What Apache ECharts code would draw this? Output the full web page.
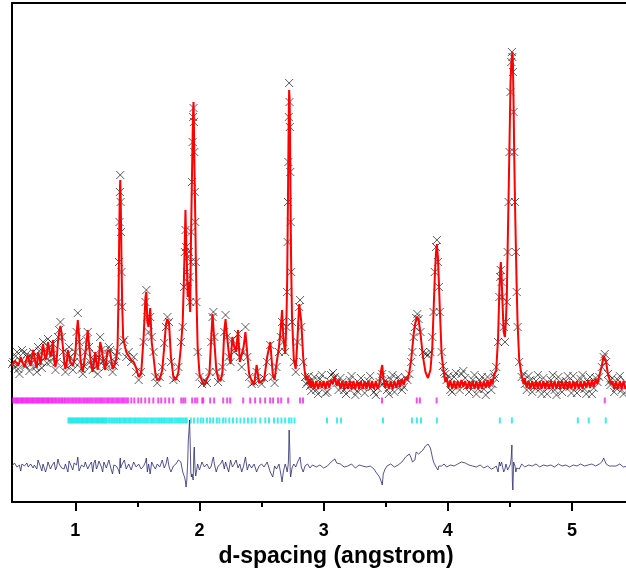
<!DOCTYPE html>
<html><head><meta charset="utf-8">
<script src="https://cdn.jsdelivr.net/npm/echarts@6/dist/echarts.min.js"></script>
<style>html,body{margin:0;padding:0;background:#fff}#c{width:626px;height:573px}</style>
</head><body><div id="c"></div>
<script>
// observed intensity [d-spacing (angstrom), intensity (arb.)]
const observed = [
[0.49,138],[0.50,140],[0.51,134],[0.52,146],[0.53,150],[0.54,133],[0.55,128],[0.56,141],[0.57,152],[0.58,149],
[0.59,137],[0.60,136],[0.61,148],[0.62,144],[0.63,131],[0.64,138],[0.65,145],[0.66,150],[0.67,142],[0.68,135],
[0.69,130],[0.70,155],[0.71,151],[0.72,140],[0.73,134],[0.74,160],[0.75,152],[0.76,145],[0.77,139],[0.78,163],
[0.79,155],[0.80,140],[0.81,147],[0.82,158],[0.83,145],[0.84,132],[0.85,140],[0.86,165],[0.87,172],[0.88,180],
[0.89,165],[0.90,150],[0.91,138],[0.92,130],[0.93,136],[0.94,148],[0.95,155],[0.96,145],[0.97,138],[0.98,132],
[0.99,140],[1.00,150],[1.01,170],[1.02,189],[1.03,160],[1.04,140],[1.05,133],[1.06,128],[1.07,136],[1.08,150],
[1.09,162],[1.10,170],[1.11,155],[1.12,140],[1.13,137],[1.14,132],[1.15,142],[1.16,148],[1.17,136],[1.18,128],
[1.19,145],[1.20,165],[1.21,152],[1.22,140],[1.23,142],[1.24,135],[1.25,138],[1.26,148],[1.27,155],[1.28,152],
[1.29,138],[1.30,130],[1.31,136],[1.32,140],[1.33,146],[1.34,150],
[1.348,200],[1.352,240],[1.356,280],[1.359,310],[1.362,327],[1.365,300],[1.368,270],[1.372,230],[1.377,195],[1.385,160],
[1.395,162],[1.41,145],[1.43,150],[1.45,140],[1.47,145],[1.49,130],[1.51,122],[1.53,130],[1.55,160],[1.565,200],
[1.572,212],[1.58,185],[1.59,170],[1.603,185],[1.615,165],[1.63,150],[1.645,125],[1.66,119],[1.68,125],[1.70,135],
[1.716,159],[1.73,175],[1.742,185],[1.755,180],[1.77,140],[1.79,122],[1.81,124],[1.83,135],[1.85,160],[1.865,175],
[1.875,215],[1.882,250],[1.887,272],[1.892,255],[1.898,230],[1.905,220],[1.91,245],[1.915,250],[1.92,225],[1.925,200],
[1.93,240],[1.935,270],[1.94,320],[1.945,360],[1.949,385],[1.952,394],[1.955,380],[1.958,350],[1.962,310],[1.966,280],
[1.97,240],[1.975,200],[1.985,150],[2.00,125],[2.02,118],[2.04,122],[2.06,119],[2.08,130],[2.095,160],[2.105,185],
[2.112,190],[2.12,165],[2.135,130],[2.15,120],[2.17,124],[2.185,135],[2.20,170],[2.21,187],[2.22,165],[2.235,145],
[2.25,140],[2.265,162],[2.28,150],[2.295,155],[2.31,168],[2.325,145],[2.34,135],[2.355,150],[2.37,175],[2.385,145],
[2.40,125],[2.42,118],[2.44,120],[2.46,130],[2.48,122],[2.50,118],[2.52,124],[2.545,140],[2.57,157],[2.59,125],
[2.605,119],[2.62,135],[2.64,150],[2.655,165],[2.665,180],[2.675,160],[2.69,150],[2.70,175],[2.706,210],[2.71,260],
[2.713,300],[2.716,340],[2.719,385],[2.722,419],[2.725,400],[2.728,375],[2.731,330],[2.734,280],[2.738,230],[2.745,180],
[2.76,140],[2.775,130],[2.79,160],[2.803,195],[2.81,202],[2.82,175],[2.835,140],
[2.85,125],[2.86,118],[2.87,120],[2.88,126],[2.89,116],[2.90,111],[2.91,121],[2.925,125],[2.94,112],[2.955,108],
[2.97,123],[2.985,127],[3.00,117],[3.015,109],[3.03,110],[3.045,121],[3.06,127],[3.075,129],[3.09,125],[3.105,119],
[3.12,112],[3.135,124],[3.15,120],[3.165,112],[3.18,108],[3.195,116],[3.21,122],[3.225,126],[3.24,114],[3.255,107],
[3.27,111],[3.285,119],[3.30,124],[3.315,115],[3.33,109],[3.345,118],[3.36,121],[3.375,126],[3.39,115],[3.405,110],
[3.42,107],[3.435,114],[3.45,120],[3.465,125],[3.472,128],[3.48,118],[3.495,121],[3.51,112],[3.525,108],[3.54,123],
[3.555,127],[3.57,110],[3.585,116],[3.60,125],[3.615,121],[3.63,112],[3.645,115],[3.66,124],[3.675,122],[3.69,128],
[3.705,140],[3.715,150],[3.725,165],[3.735,175],[3.745,184],[3.755,188],[3.765,183],[3.78,170],[3.80,150],[3.82,148],
[3.84,147],[3.86,150],[3.875,165],[3.885,190],[3.895,230],[3.905,255],[3.912,262],[3.92,240],[3.928,215],[3.935,190],
[3.95,150],[3.96,136],[3.97,130],[3.98,128],[3.99,122],[4.005,126],[4.02,112],[4.035,110],[4.05,125],[4.065,129],
[4.08,118],[4.095,112],[4.11,128],[4.125,131],[4.14,124],[4.155,116],[4.17,110],[4.185,118],[4.20,122],[4.215,127],
[4.23,108],[4.245,113],[4.26,121],[4.275,125],[4.29,113],[4.305,107],[4.32,125],[4.335,119],[4.35,112],[4.36,118],
[4.37,128],[4.38,124],[4.39,135],
[4.405,160],[4.415,205],[4.422,225],[4.427,232],[4.433,220],[4.44,205],[4.45,175],[4.46,160],[4.468,180],[4.475,200],
[4.482,250],[4.49,300],[4.497,350],[4.505,410],[4.511,440],[4.516,450],[4.52,445],[4.524,430],[4.53,390],[4.535,350],
[4.541,300],[4.548,250],[4.555,210],[4.562,175],[4.575,140],
[4.595,125],[4.61,128],[4.62,118],[4.635,112],[4.65,126],[4.665,122],[4.68,110],[4.695,115],[4.71,121],[4.725,127],
[4.74,113],[4.755,108],[4.77,124],[4.785,118],[4.80,108],[4.815,115],[4.83,122],[4.845,127],[4.86,112],[4.875,107],
[4.89,125],[4.905,120],[4.92,110],[4.935,116],[4.95,121],[4.965,126],[4.98,115],[4.995,109],[5.01,126],[5.025,119],
[5.04,109],[5.055,114],[5.07,123],[5.085,127],[5.10,113],[5.115,108],[5.13,120],[5.145,125],[5.16,108],[5.175,114],
[5.19,124],[5.205,120],[5.22,125],[5.24,135],[5.255,145],[5.264,148],[5.275,140],[5.29,128],[5.30,120],[5.31,117],
[5.325,124],[5.34,110],[5.355,114],[5.37,122],[5.385,126],[5.40,112],[5.415,108],[5.43,120],[5.45,115]
];
// calculated profile
const calculated = [
[0.49,136],[0.50,138],[0.51,141],[0.52,142],[0.53,139],[0.54,136],[0.55,140],[0.56,145],[0.57,143],[0.58,138],
[0.59,135],[0.60,140],[0.61,144],[0.62,147],[0.63,140],[0.64,136],[0.65,144],[0.66,152],[0.67,146],[0.68,138],
[0.69,134],[0.70,150],[0.71,146],[0.72,137],[0.73,139],[0.74,158],[0.75,150],[0.76,142],[0.77,147],[0.78,160],
[0.79,153],[0.80,145],[0.81,150],[0.82,162],[0.83,141],[0.84,135],[0.85,143],[0.86,160],[0.87,170],[0.88,176],
[0.89,168],[0.90,155],[0.91,142],[0.92,133],[0.93,138],[0.94,152],[0.95,150],[0.96,140],[0.97,140],[0.98,136],
[0.99,138],[1.00,148],[1.01,168],[1.02,182],[1.03,166],[1.04,145],[1.05,134],[1.06,130],[1.07,139],[1.08,148],
[1.09,160],[1.10,172],[1.11,158],[1.12,145],[1.13,135],[1.14,130],[1.15,140],[1.16,150],[1.17,140],[1.18,132],
[1.19,142],[1.20,160],[1.21,155],[1.22,146],[1.23,138],[1.24,132],[1.25,142],[1.26,152],[1.27,151],[1.28,150],
[1.29,142],[1.30,133],[1.31,134],[1.32,138],[1.33,144],[1.34,155],
[1.348,205],[1.352,250],[1.356,290],[1.359,312],[1.362,322],[1.365,305],[1.368,280],[1.372,240],[1.377,200],[1.385,165],
[1.395,158],[1.41,150],[1.43,146],[1.45,142],[1.47,140],[1.49,134],[1.51,125],[1.53,128],[1.55,165],[1.565,205],
[1.572,210],[1.58,180],[1.59,175],[1.603,194],[1.615,160],[1.63,145],[1.645,128],[1.66,122],[1.68,123],[1.70,132],
[1.716,155],[1.73,178],[1.742,183],[1.755,178],[1.77,145],[1.79,125],[1.81,122],[1.83,130],[1.85,155],[1.865,180],
[1.875,225],[1.882,262],[1.887,292],[1.892,265],[1.898,240],[1.905,205],[1.91,215],[1.915,220],[1.92,200],[1.925,190],
[1.93,250],[1.935,290],[1.94,330],[1.945,368],[1.949,392],[1.952,400],[1.955,378],[1.958,345],[1.962,315],[1.966,285],
[1.97,248],[1.975,210],[1.985,155],[2.00,128],[2.02,121],[2.04,117],[2.06,123],[2.08,128],[2.095,165],[2.105,188],
[2.112,186],[2.12,160],[2.135,133],[2.15,123],[2.17,121],[2.185,130],[2.20,172],[2.21,183],[2.22,168],[2.235,150],
[2.25,138],[2.265,165],[2.28,155],[2.295,150],[2.31,172],[2.325,140],[2.34,138],[2.355,155],[2.37,170],[2.385,148],
[2.40,128],[2.42,121],[2.44,117],[2.46,137],[2.48,119],[2.50,121],[2.52,122],[2.545,145],[2.57,160],[2.59,128],
[2.605,122],[2.62,138],[2.64,155],[2.655,175],[2.665,192],[2.675,165],[2.69,148],[2.70,180],[2.706,220],[2.71,270],
[2.713,310],[2.716,350],[2.719,390],[2.722,412],[2.725,405],[2.728,385],[2.731,340],[2.734,290],[2.738,240],[2.745,185],
[2.76,142],[2.775,133],[2.79,165],[2.803,198],[2.81,200],[2.82,180],[2.835,145],
[2.85,128],[2.86,122],[2.87,126],[2.88,117],[2.89,123],[2.90,114],[2.91,121],[2.925,113],[2.94,121],[2.955,113],
[2.97,121],[2.985,114],[3.00,121],[3.015,113],[3.03,121],[3.045,114],[3.06,122],[3.075,118],[3.09,126],[3.105,116],
[3.12,122],[3.135,113],[3.15,121],[3.165,113],[3.18,121],[3.195,113],[3.21,121],[3.225,113],[3.24,121],[3.255,113],
[3.27,121],[3.285,113],[3.30,121],[3.315,113],[3.33,121],[3.345,113],[3.36,121],[3.375,113],[3.39,121],[3.405,113],
[3.42,121],[3.435,113],[3.45,119],[3.465,133],[3.472,137],[3.48,125],[3.495,114],[3.51,121],[3.525,113],[3.54,121],
[3.555,113],[3.57,121],[3.585,114],[3.60,122],[3.615,115],[3.63,123],[3.645,117],[3.66,125],[3.675,122],[3.69,130],
[3.705,142],[3.715,155],[3.725,168],[3.735,177],[3.745,182],[3.755,185],[3.765,182],[3.78,168],[3.80,145],[3.82,130],
[3.84,124],[3.86,132],[3.875,155],[3.885,190],[3.895,225],[3.905,250],[3.912,258],[3.92,245],[3.928,220],[3.935,195],
[3.95,148],[3.96,137],[3.97,128],[3.98,120],[3.99,125],[4.005,114],[4.02,122],[4.035,113],[4.05,121],[4.065,113],
[4.08,121],[4.095,114],[4.11,122],[4.125,115],[4.14,121],[4.155,113],[4.17,121],[4.185,113],[4.20,121],[4.215,113],
[4.23,121],[4.245,113],[4.26,121],[4.275,113],[4.29,121],[4.305,114],[4.32,122],[4.335,115],[4.35,123],[4.36,118],
[4.37,126],[4.38,124],[4.39,132],
[4.405,165],[4.415,210],[4.422,232],[4.427,240],[4.433,225],[4.44,200],[4.45,170],[4.46,165],[4.468,182],[4.475,205],
[4.482,255],[4.49,310],[4.497,360],[4.505,420],[4.511,438],[4.516,445],[4.52,450],[4.524,440],[4.53,395],[4.535,345],
[4.541,300],[4.548,255],[4.555,212],[4.562,178],[4.575,142],
[4.595,126],[4.61,118],[4.62,124],[4.635,114],[4.65,121],[4.665,113],[4.68,121],[4.695,113],[4.71,121],[4.725,113],
[4.74,121],[4.755,113],[4.77,121],[4.785,113],[4.80,121],[4.815,113],[4.83,121],[4.845,113],[4.86,121],[4.875,113],
[4.89,121],[4.905,113],[4.92,121],[4.935,113],[4.95,121],[4.965,113],[4.98,121],[4.995,113],[5.01,121],[5.025,113],
[5.04,121],[5.055,113],[5.07,121],[5.085,113],[5.10,121],[5.115,114],[5.13,122],[5.145,114],[5.16,122],[5.175,115],
[5.19,123],[5.205,118],[5.22,126],[5.24,136],[5.255,146],[5.264,148],[5.275,140],[5.29,127],[5.30,124],[5.31,118],
[5.325,121],[5.34,113],[5.355,121],[5.37,113],[5.385,121],[5.40,113],[5.415,121],[5.43,113],[5.45,119]
];
// difference (observed - calculated, offset)
const difference = [
[0.49,36],[0.50,36],[0.51,39],[0.52,38],[0.53,35],[0.54,33],[0.55,37],[0.56,31],[0.57,38],[0.58,40],
[0.59,36],[0.60,34],[0.61,39],[0.62,35],[0.63,33],[0.64,38],[0.65,40],[0.66,34],[0.67,37],[0.68,36],
[0.69,33],[0.70,42],[0.71,40],[0.72,35],[0.73,31],[0.74,38],[0.75,37],[0.76,30],[0.77,34],[0.78,40],
[0.79,39],[0.80,33],[0.81,36],[0.82,36],[0.83,40],[0.84,32],[0.85,35],[0.86,43],[0.87,38],[0.88,40],
[0.89,34],[0.90,34],[0.91,33],[0.92,38],[0.93,36],[0.94,30],[0.95,41],[0.96,40],[0.97,35],[0.98,32],
[0.99,39],[1.00,38],[1.01,37],[1.02,45],[1.03,31],[1.04,33],[1.05,37],[1.06,36],[1.07,35],[1.08,40],
[1.09,38],[1.10,33],[1.11,36],[1.12,38],[1.13,40],[1.14,30],[1.15,39],[1.16,42],[1.17,33],[1.18,36],
[1.19,41],[1.20,40],[1.21,35],[1.22,30],[1.23,40],[1.24,38],[1.25,34],[1.26,33],[1.27,42],[1.28,44],
[1.29,32],[1.30,28],[1.31,37],[1.32,38],[1.33,36],[1.34,35],
[1.348,32],[1.352,30],[1.356,28],[1.359,40],[1.362,44],[1.365,34],[1.368,32],[1.372,36],[1.377,38],[1.385,40],
[1.395,42],[1.41,33],[1.43,38],[1.45,32],[1.47,40],[1.49,35],[1.51,38],[1.53,33],[1.55,36],[1.565,40],
[1.572,44],[1.58,30],[1.59,38],[1.603,28],[1.615,40],[1.63,36],[1.645,33],[1.66,38],[1.68,35],[1.70,42],
[1.716,34],[1.73,38],[1.742,45],[1.755,35],[1.77,30],[1.79,36],[1.81,38],[1.83,42],[1.85,40],[1.865,30],
[1.875,28],[1.882,24],[1.887,20],[1.892,15],[1.898,22],[1.905,40],[1.91,62],[1.915,70],[1.92,82],[1.925,60],
[1.93,30],[1.935,25],[1.94,28],[1.945,30],[1.949,22],[1.952,20],[1.955,50],[1.958,55],[1.962,40],[1.966,30],
[1.97,26],[1.975,25],[1.985,38],[2.00,32],[2.02,40],[2.04,35],[2.06,38],[2.08,33],[2.095,36],[2.105,42],
[2.112,45],[2.12,38],[2.135,30],[2.15,36],[2.17,38],[2.185,42],[2.20,33],[2.21,40],[2.22,36],[2.235,30],
[2.25,42],[2.265,35],[2.28,38],[2.295,42],[2.31,34],[2.325,38],[2.34,30],[2.355,36],[2.37,45],[2.385,32],
[2.40,38],[2.42,34],[2.44,38],[2.46,30],[2.48,36],[2.50,38],[2.52,35],[2.545,40],[2.57,30],[2.59,25],
[2.605,36],[2.62,33],[2.64,38],[2.655,28],[2.665,20],[2.675,30],[2.69,38],[2.70,34],[2.706,30],[2.71,32],
[2.713,36],[2.716,40],[2.719,55],[2.722,72],[2.725,60],[2.728,50],[2.731,30],[2.734,25],[2.738,28],[2.745,34],
[2.76,38],[2.775,35],[2.79,40],[2.803,42],[2.81,45],[2.82,35],[2.835,30],
[2.85,36],[2.86,37],[2.87,38],[2.88,36],[2.89,34],[2.90,35],[2.91,37],[2.925,38],[2.94,35],[2.955,33],
[2.97,37],[2.985,38],[3.00,34],[3.015,35],[3.03,36],[3.045,37],[3.06,40],[3.075,41],[3.09,43],[3.105,39],
[3.12,37],[3.135,38],[3.15,36],[3.165,35],[3.18,35],[3.195,36],[3.21,37],[3.225,38],[3.24,36],[3.255,34],
[3.27,35],[3.285,37],[3.30,37],[3.315,36],[3.33,36],[3.345,35],[3.36,34],[3.375,36],[3.39,35],[3.405,33],
[3.42,30],[3.435,28],[3.45,25],[3.465,20],[3.472,17],[3.48,28],[3.495,33],[3.51,36],[3.525,37],[3.54,38],
[3.555,38],[3.57,35],[3.585,36],[3.60,37],[3.615,38],[3.63,40],[3.645,42],[3.66,45],[3.675,46],[3.69,48],
[3.705,44],[3.715,40],[3.725,42],[3.735,42],[3.745,50],[3.755,48],[3.765,48],[3.78,50],[3.80,52],[3.82,56],
[3.84,58],[3.86,54],[3.875,45],[3.885,40],[3.895,38],[3.905,35],[3.912,37],[3.92,32],[3.928,36],[3.935,38],
[3.95,36],[3.96,37],[3.97,38],[3.98,36],[3.99,35],[4.005,36],[4.02,37],[4.035,36],[4.05,36],[4.065,37],
[4.08,38],[4.095,39],[4.11,40],[4.125,41],[4.14,39],[4.155,38],[4.17,37],[4.185,36],[4.20,36],[4.215,37],
[4.23,35],[4.245,36],[4.26,37],[4.275,35],[4.29,34],[4.305,35],[4.32,36],[4.335,34],[4.35,33],[4.36,35],
[4.37,34],[4.38,35],[4.39,36],
[4.405,30],[4.415,40],[4.422,36],[4.427,35],[4.433,40],[4.44,42],[4.45,30],[4.46,33],[4.468,38],[4.475,36],
[4.482,32],[4.49,30],[4.497,34],[4.505,38],[4.511,45],[4.516,57],[4.52,20],[4.524,12],[4.53,40],[4.535,40],
[4.541,36],[4.548,30],[4.555,34],[4.562,36],[4.575,33],
[4.595,38],[4.61,37],[4.62,35],[4.635,36],[4.65,37],[4.665,36],[4.68,36],[4.695,37],[4.71,38],[4.725,36],
[4.74,35],[4.755,36],[4.77,37],[4.785,36],[4.80,36],[4.815,35],[4.83,37],[4.845,38],[4.86,35],[4.875,36],
[4.89,38],[4.905,37],[4.92,36],[4.935,35],[4.95,37],[4.965,38],[4.98,35],[4.995,36],[5.01,37],[5.025,36],
[5.04,36],[5.055,37],[5.07,38],[5.085,37],[5.10,36],[5.115,35],[5.13,37],[5.145,38],[5.16,38],[5.175,37],
[5.19,36],[5.205,37],[5.22,38],[5.24,40],[5.255,44],[5.264,42],[5.275,38],[5.29,36],[5.30,36],[5.31,37],
[5.325,36],[5.34,35],[5.355,36],[5.37,37],[5.385,38],[5.40,36],[5.415,35],[5.43,37],[5.45,36]
];
// reflection positions, phase 1 (magenta)
const phase1Reflections = [
0.50,0.51,0.52,0.53,0.54,0.55,0.56,0.57,0.58,0.59,0.60,0.61,0.62,0.63,0.64,0.65,0.66,0.67,0.68,0.69,
0.70,0.71,0.72,0.73,0.74,0.75,0.76,0.77,0.78,0.79,0.80,0.812,0.823,0.835,0.846,0.858,0.87,0.881,0.893,0.905,
0.917,0.93,0.942,0.955,0.968,0.98,0.992,1.005,1.018,1.03,1.043,1.056,1.07,1.083,1.095,1.108,1.12,1.133,1.146,1.16,
1.172,1.185,1.198,1.21,1.222,1.236,1.25,1.263,1.276,1.29,1.302,1.316,1.33,1.343,1.356,1.37,1.383,1.396,1.41,1.424,
1.451,1.475,1.507,1.531,1.563,1.595,1.628,1.668,1.692,1.724,1.756,1.788,1.853,1.869,1.885,1.941,1.965,1.982,2.022,2.030,
2.086,2.118,2.191,2.223,2.247,2.352,2.408,2.448,2.489,2.529,2.569,2.593,2.633,2.658,2.714,2.81,2.834,
3.47,3.75,3.775,3.91,5.264
];
// reflection positions, phase 2 (cyan)
const phase2Reflections = [
0.944,0.954,0.964,0.974,0.984,0.994,1.004,1.014,1.024,1.034,1.044,1.054,1.064,1.074,1.084,1.094,1.104,1.114,1.124,1.134,
1.144,1.154,1.164,1.174,1.184,1.194,1.204,1.214,1.224,1.234,1.244,1.254,
1.27,1.283,1.296,1.31,1.322,1.335,1.348,1.36,1.374,1.388,1.40,1.414,1.428,1.44,1.453,1.467,1.48,1.493,1.506,1.52,
1.534,1.548,1.562,1.576,1.59,1.605,1.618,1.632,1.646,1.66,1.674,1.688,1.70,1.714,1.728,1.742,1.756,1.77,1.784,1.80,
1.814,1.828,1.842,1.856,1.87,1.885,1.898,
1.93,1.955,1.985,2.01,2.03,2.06,2.085,2.11,2.14,2.16,2.19,2.21,2.24,2.27,2.3,2.33,2.36,2.39,2.42,2.45,
2.49,2.53,2.56,2.6,2.63,2.66,2.69,2.72,2.74,2.765,
3.027,3.108,3.14,3.478,3.711,3.751,3.784,3.912,4.419,4.516,5.047,5.135,5.272
];
const majorTicks = [1, 2, 3, 4, 5];
const minorTicks = [1.5, 2.5, 3.5, 4.5];
const xTitle = 'd-spacing (angstrom)';
const phase1Level = 101.5;
const phase2Level = 81.5;

const X_MIN = 0.49, X_MAX = 5.435;
const chart = echarts.init(document.getElementById('c'), null, {renderer: 'canvas'});
const font = "'Liberation Sans', Arial, sans-serif";
const p1 = phase1Reflections.map(d => [d, phase1Level]);
const p2 = phase2Reflections.map(d => [d, phase2Level]);

chart.setOption({
  animation: false,
  backgroundColor: '#ffffff',
  grid: {left: 12, right: 0, top: 3, bottom: 71, containLabel: false},
  xAxis: [
    {
      type: 'value', min: X_MIN, max: X_MAX, position: 'bottom', offset: 0,
      name: xTitle, nameLocation: 'middle', nameGap: 41,
      nameTextStyle: {fontFamily: font, fontWeight: 'bold', fontSize: 23, color: '#000', padding: [0, 0, 0, 34]},
      axisLine: {show: true, onZero: false, lineStyle: {color: '#000', width: 2}},
      axisTick: {show: true, customValues: majorTicks, length: 9, lineStyle: {color: '#000', width: 2}},
      axisLabel: {show: true, customValues: majorTicks, margin: 20, fontFamily: font, fontWeight: 'bold', fontSize: 18, color: '#000'},
      splitLine: {show: false}
    },
    {
      type: 'value', min: X_MIN, max: X_MAX, position: 'bottom', offset: 0,
      axisLine: {show: false},
      axisTick: {show: true, customValues: minorTicks, length: 5, lineStyle: {color: '#000', width: 2}},
      axisLabel: {show: false},
      splitLine: {show: false}
    },
    {
      type: 'value', min: X_MIN, max: X_MAX, position: 'top', offset: 0,
      axisLine: {show: true, onZero: false, lineStyle: {color: '#000', width: 2}},
      axisTick: {show: false}, axisLabel: {show: false}, splitLine: {show: false}
    }
  ],
  yAxis: {
    type: 'value', min: 0, max: 499,
    axisLine: {show: true, onZero: false, lineStyle: {color: '#000', width: 2}},
    axisTick: {show: false}, axisLabel: {show: false}, splitLine: {show: false}
  },
  series: [
    {
      name: 'observed', type: 'scatter', data: observed, z: 2,
      symbol: 'path://M0,0L10,10M10,0L0,10', symbolSize: 8,
      itemStyle: {color: 'rgba(0,0,0,0)', borderColor: 'rgba(0,0,0,0.8)', borderWidth: 1}
    },
    {
      name: 'calculated', type: 'line', data: calculated, z: 3, showSymbol: false,
      lineStyle: {color: '#ff0000', width: 2}
    },
    {
      name: 'difference', type: 'line', data: difference, z: 3, showSymbol: false,
      lineStyle: {color: '#2a2a70', width: 0.8}
    },
    {
      name: 'phase 1', type: 'scatter', data: p1, z: 2,
      symbol: 'rect', symbolSize: [2, 6], itemStyle: {color: '#f020f0'}
    },
    {
      name: 'phase 2', type: 'scatter', data: p2, z: 2,
      symbol: 'rect', symbolSize: [2, 6], itemStyle: {color: '#10e8e8'}
    }
  ]
});
</script>
</body></html>
